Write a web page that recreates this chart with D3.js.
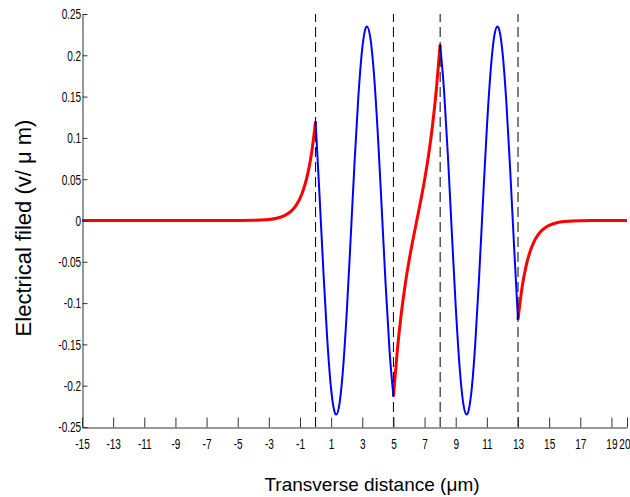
<!DOCTYPE html>
<html>
<head>
<meta charset="utf-8">
<script src="https://cdn.jsdelivr.net/npm/d3@7"></script>
<style>
  html, body { margin: 0; padding: 0; background: #fff; }
  svg { display: block; font-family: "Liberation Sans", Arial, Helvetica, sans-serif; }
</style>
</head>
<body>
<svg id="chart" width="630" height="497"></svg>
<script>
// Transverse field profile of a five-layer structure (two guiding layers, µm units)
const cladLeftX = [-15, -10, -7, -6, -5, -4, -3.5, -3, -2.5, -2, -1.75, -1.5, -1.25, -1, -0.75, -0.5, -0.25, 0];
const cladLeftE = [0, 0, 0, 0, 0.0001, 0.0003, 0.0006, 0.0013, 0.0028, 0.0060, 0.0087, 0.0126, 0.0184, 0.0268, 0.0390, 0.0567, 0.0824, 0.120];

const core1X = [0, 0.25, 0.5, 0.75, 1, 1.25, 1.325, 1.5, 1.75, 2, 2.25, 2.5, 2.75, 3, 3.25, 3.3, 3.5, 3.75, 4, 4.25, 4.5, 4.75, 5];
const core1E = [0.120, 0.0321, -0.0606, -0.1437, -0.2045, -0.2334, -0.235, -0.2259, -0.1830, -0.1120, -0.0232, 0.0692, 0.1507, 0.2088, 0.2343, 0.235, 0.2232, 0.1774, 0.1038, 0.0141, -0.0778, -0.1575, -0.2130];

const gapX = [5, 5.25, 5.5, 5.75, 6, 6.25, 6.5, 6.75, 7, 7.25, 7.5, 7.75, 8];
const gapE = [-0.2130, -0.1572, -0.1135, -0.0783, -0.0491, -0.0237, 0, 0.0237, 0.0491, 0.0783, 0.1135, 0.1572, 0.2130];

const core2X = [8, 8.25, 8.5, 8.75, 9, 9.25, 9.5, 9.7, 9.75, 10, 10.25, 10.5, 10.75, 11, 11.25, 11.5, 11.675, 11.75, 12, 12.25, 12.5, 12.75, 13];
const core2E = [0.2130, 0.1575, 0.0778, -0.0141, -0.1038, -0.1774, -0.2232, -0.235, -0.2343, -0.2088, -0.1507, -0.0692, 0.0232, 0.1120, 0.1830, 0.2259, 0.235, 0.2334, 0.2045, 0.1437, 0.0606, -0.0321, -0.120];

const cladRightX = [13, 13.25, 13.5, 13.75, 14, 14.25, 14.5, 14.75, 15, 15.5, 16, 16.5, 17, 18, 19, 20];
const cladRightE = [-0.120, -0.0824, -0.0567, -0.0390, -0.0268, -0.0184, -0.0126, -0.0087, -0.0060, -0.0028, -0.0013, -0.0006, -0.0003, -0.0001, 0, 0];

// Layer interfaces
const interfaces = [0, 5, 8, 13];

const xTicks = [-15, -13, -11, -9, -7, -5, -3, -1, 1, 3, 5, 7, 9, 11, 13, 15, 17, 19, 20];
const yTicks = [-0.25, -0.2, -0.15, -0.1, -0.05, 0, 0.05, 0.1, 0.15, 0.2, 0.25];

const xLabel = "Transverse distance (\u03BCm)";
const yLabel = "Electrical filed (v/ \u03BC m)";

const svg = d3.select("#chart");
const x = d3.scaleLinear().domain([-15, 20]).range([82, 627]);
const y = d3.scaleLinear().domain([-0.25, 0.25]).range([427, 14]);

const zip = (xs, es) => xs.map((v, i) => [v, es[i]]);
const line = d3.line().x(d => x(d[0])).y(d => y(d[1])).curve(d3.curveMonotoneX);

const red = "#ff0000", blue = "#0000ff";
const segments = [
  { pts: zip(cladLeftX, cladLeftE), color: red, w: 3 },
  { pts: zip(gapX, gapE), color: red, w: 3 },
  { pts: zip(cladRightX, cladRightE), color: red, w: 3 },
  { pts: zip(core1X, core1E), color: blue, w: 2 },
  { pts: zip(core2X, core2E), color: blue, w: 2 }
];

svg.append("g").selectAll("path").data(segments).join("path")
  .attr("d", d => line(d.pts))
  .attr("fill", "none")
  .attr("stroke", d => d.color)
  .attr("stroke-width", d => d.w)
  .attr("stroke-linejoin", "round");

// Dashed interface markers
svg.append("g").selectAll("line").data(interfaces).join("line")
  .attr("x1", d => x(d)).attr("x2", d => x(d))
  .attr("y1", y(-0.25)).attr("y2", y(0.25))
  .attr("stroke", "#000")
  .attr("stroke-width", 1)
  .attr("stroke-dasharray", "10,5");

// Axes (plain hyphen minus signs, condensed tick labels)
const axisColor = "#333";
const squeeze = 0.67;
const plain = d => String(+(+d).toFixed(2));

const gx = svg.append("g")
  .attr("transform", `translate(0,${y(-0.25) + 0.5})`)
  .call(d3.axisBottom(x).tickValues(xTicks).tickFormat(plain)
    .tickSizeInner(-10).tickSizeOuter(0).tickPadding(11));
gx.select(".domain").attr("stroke", axisColor);
gx.selectAll(".tick line").attr("stroke", axisColor);
gx.selectAll(".tick text")
  .attr("fill", "#000")
  .style("font-size", "15px")
  .attr("transform", `scale(${squeeze},1)`);
// keep the last label inside the frame
gx.selectAll(".tick text").filter(d => d === 20)
  .attr("text-anchor", "end")
  .attr("x", 3 / squeeze);

const gy = svg.append("g")
  .attr("transform", `translate(${x(-15) + 0.5},0)`)
  .call(d3.axisLeft(y).tickValues(yTicks).tickFormat(plain)
    .tickSizeInner(-5).tickSizeOuter(0).tickPadding(2));
gy.select(".domain").attr("stroke", axisColor);
gy.selectAll(".tick line").attr("stroke", axisColor);
gy.selectAll(".tick text")
  .attr("fill", "#000")
  .style("font-size", "15px")
  .attr("transform", `scale(${squeeze},1)`);

// Axis titles
svg.append("text")
  .attr("x", 372).attr("y", 491)
  .attr("text-anchor", "middle")
  .style("font-size", "19px")
  .text(xLabel);

svg.append("text")
  .attr("transform", "translate(31,228) rotate(-90)")
  .attr("text-anchor", "middle")
  .style("font-size", "22px")
  .text(yLabel);
</script>
</body>
</html>
